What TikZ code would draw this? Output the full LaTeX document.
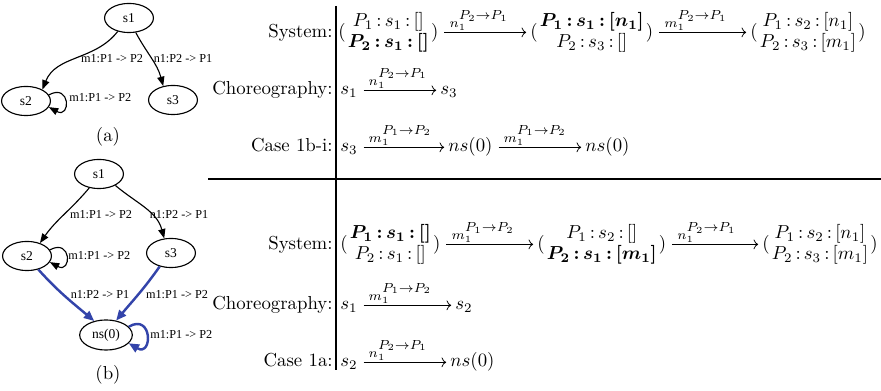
\documentclass[tikz,border=0pt]{standalone}
\usepackage{amsmath}
\usepackage{fontspec}
\newfontfamily\gvfont{Liberation Serif}
\usetikzlibrary{arrows.meta,shapes.geometric}
\definecolor{gblue}{RGB}{51,68,170}
\newcommand\pst[2]{$(\genfrac{}{}{0pt}{1}{\textstyle #1}{\textstyle #2})$}
\newcommand\tlab[2]{$\scriptstyle #1_1^{\raisebox{1.2pt}{$\scriptstyle #2$}}$}
\newcommand\cc{\,{:}\,}
\begin{document}
\begin{tikzpicture}[x=0.532pt,y=-0.532pt,
  gvf/.style={font=\gvfont\fontsize{6.5}{7.5}\selectfont},
  gst/.style={ellipse,draw,line width=0.6pt,inner sep=0pt,minimum width=26pt,minimum height=15.5pt,font=\gvfont\fontsize{7.2}{8}\selectfont},
  gl/.style={gvf,inner sep=0pt},
  ge/.style={-{Triangle[length=5pt,width=3.8pt]},line width=0.6pt},
  be/.style={-{Triangle[length=5.5pt,width=4.6pt]},line width=1.3pt,draw=gblue,color=gblue},
  rowlab/.style={anchor=base east,inner sep=0pt},
  ms/.style={anchor=base west,inner sep=0pt},
  ms1/.style={anchor=base west,inner sep=0pt,text height=7.5pt,text depth=2.5pt},
  tr/.style={-{Computer Modern Rightarrow},line width=0.4pt,shorten <=3pt,shorten >=2pt},
  tl/.style={anchor=base west,inner sep=0pt,xshift=5.5pt,yshift=2.8pt},
  rule/.style={line width=0.7pt}
]
\useasboundingbox (0,0) rectangle (881,391);
% ---------- graph (a)
\node[gst] (as1) at (129,18) {s1};
\node[gst] (as2) at (26,101) {s2};
\node[gst] (as3) at (173,100) {s3};
\draw[ge] (as1.-130) to[out=-128,in=68] (as2.35);
\draw[ge] (as1.-65) to[out=-62,in=105] (as3.125);
\draw[ge] (as2.15) .. controls +(22,-12) and +(22,12) .. (as2.-15);
\node[gl] (al1) at (112,59) {m1:P1 -> P2};
\node[gl] (al2) at (183,59) {n1:P2 -> P1};
\node[gl,anchor=west] (al3) at (69,98) {m1:P1 -> P2};
\node (capa) at (108,137) {(a)};
% ---------- graph (b)
\node[gst] (bs1) at (99,174) {s1};
\node[gst] (bs2) at (27,256) {s2};
\node[gst] (bs3) at (171,253) {s3};
\node[gst,minimum width=28pt,minimum height=16pt] (bns) at (106,335) {ns(0)};
\draw[ge] (bs1.-125) to[out=-130,in=55] (bs2.45);
\draw[ge] (bs1.-35) to[out=-40,in=105] (bs3.115);
\draw[ge] (bs2.15) .. controls +(22,-12) and +(22,12) .. (bs2.-15);
\draw[be] (bs2.-50) to[out=-48,in=140] (bns.130);
\draw[be] (bs3.-130) to[out=-125,in=50] (bns.55);
\draw[be] (bns.20) .. controls +(24,-14) and +(24,14) .. (bns.-20);
\node[gl] (bl1) at (101,215) {m1:P1 -> P2};
\node[gl] (bl2) at (179,215) {n1:P2 -> P1};
\node[gl,anchor=west] (bl3) at (68,256) {m1:P1 -> P2};
\node[gl] (bl4) at (100,295) {n1:P2 -> P1};
\node[gl] (bl5) at (177,295) {m1:P1 -> P2};
\node[gl,anchor=west] (bl6) at (150,335) {m1:P1 -> P2};
\node (capb) at (108,375) {(b)};
% ---------- rules
\draw[rule] (336,6) -- (336,370);
\draw[rule] (208,179) -- (881,179);
% ---------- top section
\node[rowlab] (l1) at (333,38) {System:};
\node[ms] (st1) at (338,38) {\pst{P_1\cc s_1\cc[]}{\boldsymbol{P_2\cc s_1\cc[]}}};
\node[ms] (st2) at (530,38) {\pst{\boldsymbol{P_1\cc s_1\cc[n_1]}}{P_2\cc s_3\cc[]}};
\node[ms] (st3) at (750,38) {\pst{P_1\cc s_2\cc[n_1]}{P_2\cc s_3\cc[m_1]}};
\draw[tr] (st1.east) -- (st1.east -| st2.west) node[tl,pos=0]{\tlab{n}{P_2\to P_1}};
\draw[tr] (st2.east) -- (st2.east -| st3.west) node[tl,pos=0]{\tlab{m}{P_2\to P_1}};
\node[rowlab] (l2) at (333,95) {Choreography:};
\node[ms1] (c1) at (340,95) {$s_1$};
\node[ms1] (c2) at (440,95) {$s_3$};
\draw[tr] (c1.east) -- (c2.west) node[tl,pos=0]{\tlab{n}{P_2\to P_1}};
\node[rowlab] (l3) at (333,152) {Case 1b-i:};
\node[ms1] (d1) at (340,152) {$s_3$};
\node[ms1] (d2) at (448,152) {$ns(0)$};
\node[ms1] (d3) at (585,152) {$ns(0)$};
\draw[tr] (d1.east) -- (d2.west) node[tl,pos=0]{\tlab{m}{P_1\to P_2}};
\draw[tr] (d2.east) -- (d3.west) node[tl,pos=0]{\tlab{m}{P_1\to P_2}};
% ---------- bottom section
\node[rowlab] (l4) at (333,250) {System:};
\node[ms] (e1) at (340,250) {\pst{\boldsymbol{P_1\cc s_1\cc[]}}{P_2\cc s_1\cc[]}};
\node[ms] (e2) at (537,250) {\pst{P_1\cc s_2\cc[]}{\boldsymbol{P_2\cc s_1\cc[m_1]}}};
\node[ms] (e3) at (762,250) {\pst{P_1\cc s_2\cc[n_1]}{P_2\cc s_3\cc[m_1]}};
\draw[tr] (e1.east) -- (e1.east -| e2.west) node[tl,pos=0]{\tlab{m}{P_1\to P_2}};
\draw[tr] (e2.east) -- (e2.east -| e3.west) node[tl,pos=0]{\tlab{n}{P_2\to P_1}};
\node[rowlab] (l5) at (333,310) {Choreography:};
\node[ms1] (f1) at (340,310) {$s_1$};
\node[ms1] (f2) at (455,310) {$s_2$};
\draw[tr] (f1.east) -- (f2.west) node[tl,pos=0]{\tlab{m}{P_1\to P_2}};
\node[rowlab] (l6) at (333,367) {Case 1a:};
\node[ms1] (g1) at (340,367) {$s_2$};
\node[ms1] (g2) at (450,367) {$ns(0)$};
\draw[tr] (g1.east) -- (g2.west) node[tl,pos=0]{\tlab{n}{P_2\to P_1}};
\end{tikzpicture}
\end{document}
